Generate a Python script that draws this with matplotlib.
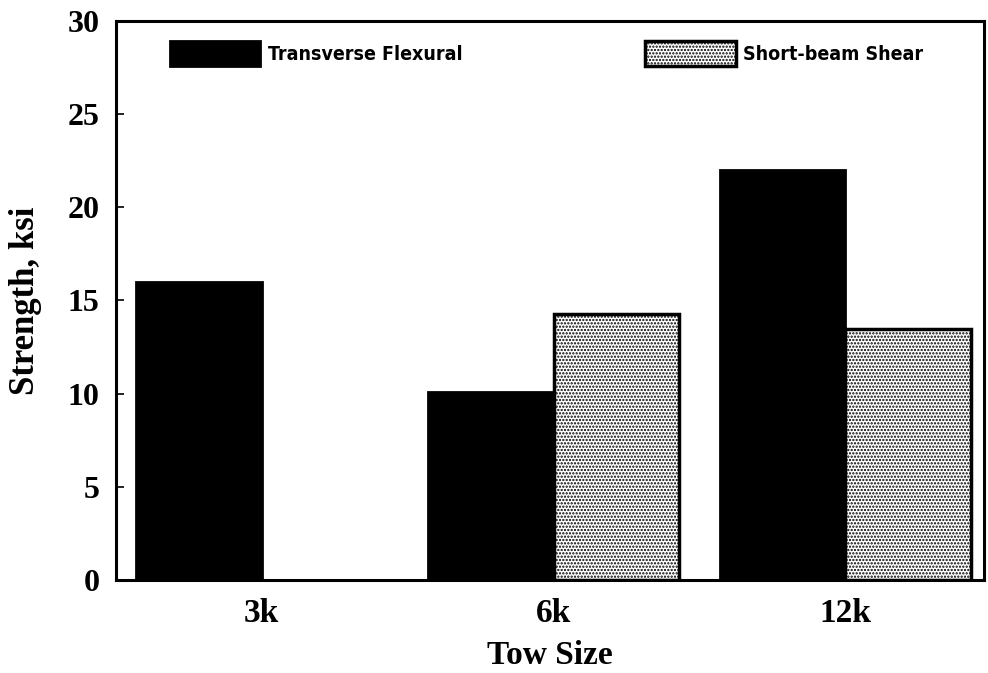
import numpy as np
import matplotlib.pyplot as plt
from matplotlib.patches import Patch

# Data
tow_sizes = ["3k", "6k", "12k"]
transverse_flexural = [16.0, 10.1, 22.0]
short_beam_shear = [np.nan, 14.25, 13.45]

plt.rcParams['hatch.linewidth'] = 1.1
serif = ['Liberation Serif', 'DejaVu Serif']
narrow = ['Liberation Sans Narrow', 'DejaVu Sans']

fig = plt.figure(figsize=(9.88, 6.73), dpi=100)
ax = fig.add_axes([0.1174, 0.1382, 0.8785, 0.8306])

x = np.arange(len(tow_sizes))
w = 0.43

ax.bar(x - w/2, transverse_flexural, w, color="black", edgecolor="black", linewidth=2)
ax.bar(x + w/2, short_beam_shear, w, color="white", edgecolor="black",
       hatch=".....", linewidth=2.5)

ax.set_xlim(-0.5, 2.475)
ax.set_ylim(0, 30)
ax.set_yticks([0, 5, 10, 15, 20, 25, 30])
ax.set_xticks(x)
ax.set_xticklabels(tow_sizes)

for s in ax.spines.values():
    s.set_linewidth(2.2)

ax.tick_params(axis='y', direction='in', length=6, width=1.2, pad=12)
ax.tick_params(axis='x', length=0, pad=13)
for lab in ax.get_yticklabels():
    lab.set_family(serif)
    lab.set_fontweight('bold')
    lab.set_fontsize(23)
for lab in ax.get_xticklabels():
    lab.set_family(serif)
    lab.set_fontweight('bold')
    lab.set_fontsize(24)

ax.set_ylabel("Strength, ksi", family=serif, fontweight='bold', fontsize=25, labelpad=18)
ax.set_xlabel("Tow Size", family=serif, fontweight='bold', fontsize=24, labelpad=8)

handles = [Patch(facecolor="black", edgecolor="black", linewidth=2),
           Patch(facecolor="white", edgecolor="black", hatch=".....", linewidth=2.5)]
ax.legend(handles, ["Transverse Flexural", "Short-beam Shear"], ncol=2,
          loc="upper left", bbox_to_anchor=(0.042, 0.995), frameon=False,
          handlelength=4.64, handleheight=1.55, handletextpad=0.4,
          columnspacing=9.4,
          prop={'family': narrow, 'weight': 'bold', 'size': 14, 'stretch': 'condensed'})

fig.savefig("out.png", dpi=100)
